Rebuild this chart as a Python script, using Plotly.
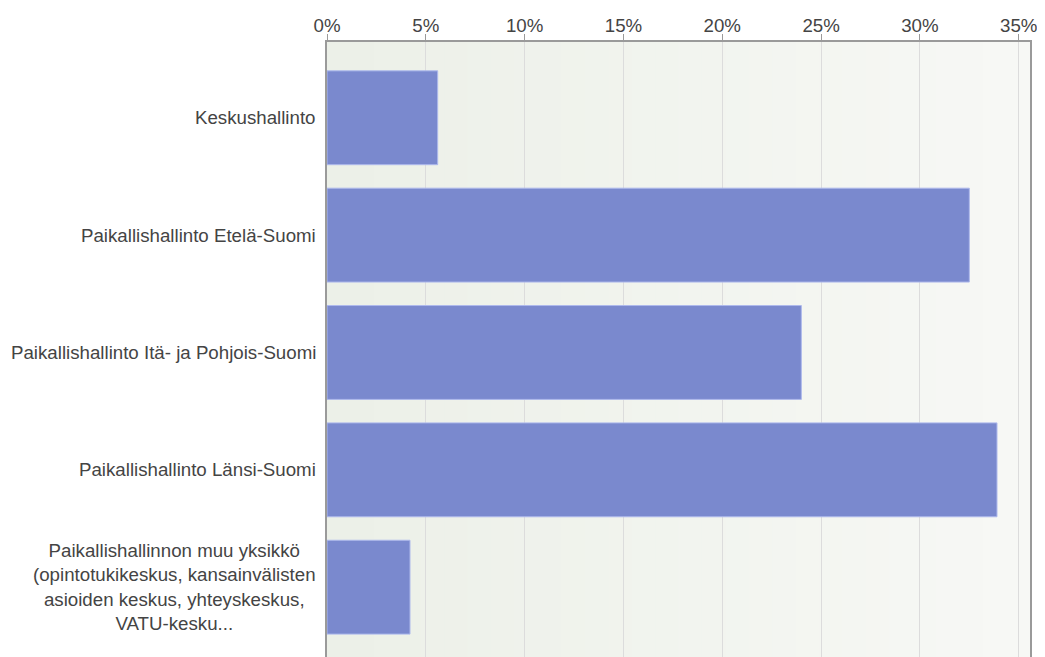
import plotly.graph_objects as go

# ---- data ----
categories = [
    "Keskushallinto",
    "Paikallishallinto Etelä-Suomi",
    "Paikallishallinto Itä- ja Pohjois-Suomi",
    "Paikallishallinto Länsi-Suomi",
    "Paikallishallinnon muu yksikkö<br>(opintotukikeskus, kansainvälisten<br>asioiden keskus, yhteyskeskus,<br>VATU-kesku...",
]
values = [5.6, 32.5, 24.0, 33.9, 4.2]  # percent
tick_values = [0, 5, 10, 15, 20, 25, 30, 35]
tick_labels = ["0%", "5%", "10%", "15%", "20%", "25%", "30%", "35%"]

FONT = "Liberation Sans"
TEXT_COLOR = "#444444"

fig = go.Figure()
fig.add_trace(go.Bar(
    x=values,
    y=list(range(len(categories))),
    orientation="h",
    marker=dict(color="#7A89CE", line=dict(color="#AEB9EC", width=1)),
    hoverinfo="x",
))

# background gradient (style only)
shapes = []
n = 30
c0 = (236, 240, 232)
c1 = (247, 248, 245)
for k in range(n):
    t = k / (n - 1)
    col = tuple(round(c0[j] + (c1[j] - c0[j]) * t) for j in range(3))
    shapes.append(dict(
        type="rect", xref="x domain", yref="y domain",
        x0=k / n, x1=(k + 1) / n + 0.002, y0=0, y1=1,
        fillcolor="rgb(%d,%d,%d)" % col, line=dict(width=0), layer="below",
    ))

annotations = []
for i, c in enumerate(categories):
    annotations.append(dict(
        x=0, xref="paper", y=i, yref="y",
        text=c, showarrow=False, xanchor="right", yanchor="middle",
        align="center", xshift=-9,
        font=dict(family=FONT, size=18.7, color=TEXT_COLOR),
    ))

fig.update_layout(
    width=1037, height=649,
    margin=dict(l=319, r=15, t=34, b=0, pad=0),
    paper_bgcolor="white",
    plot_bgcolor="rgba(0,0,0,0)",
    showlegend=False,
    bargap=0.2,
    shapes=shapes,
    annotations=annotations,
    font=dict(family=FONT, size=18.7, color=TEXT_COLOR),
    xaxis=dict(
        side="top",
        range=[0, 35.57],
        tickvals=tick_values,
        ticktext=tick_labels,
        showgrid=True, gridcolor="#DCDCDC", gridwidth=1,
        showline=True, linecolor="#9A9A9A", linewidth=2,
        ticks="outside", ticklen=6, tickcolor="#9A9A9A", tickwidth=1,
        ticklabelstandoff=-5,
        zeroline=False,
        tickfont=dict(family=FONT, size=18.7, color=TEXT_COLOR),
        fixedrange=True,
        automargin=False,
    ),
    yaxis=dict(
        range=[4.595, -0.6457],
        showticklabels=False,
        showgrid=False, zeroline=False,
        showline=True, linecolor="#9A9A9A", linewidth=2, mirror=True,
        ticks="",
        fixedrange=True,
        automargin=False,
    ),
)

fig.write_html("out.html")
